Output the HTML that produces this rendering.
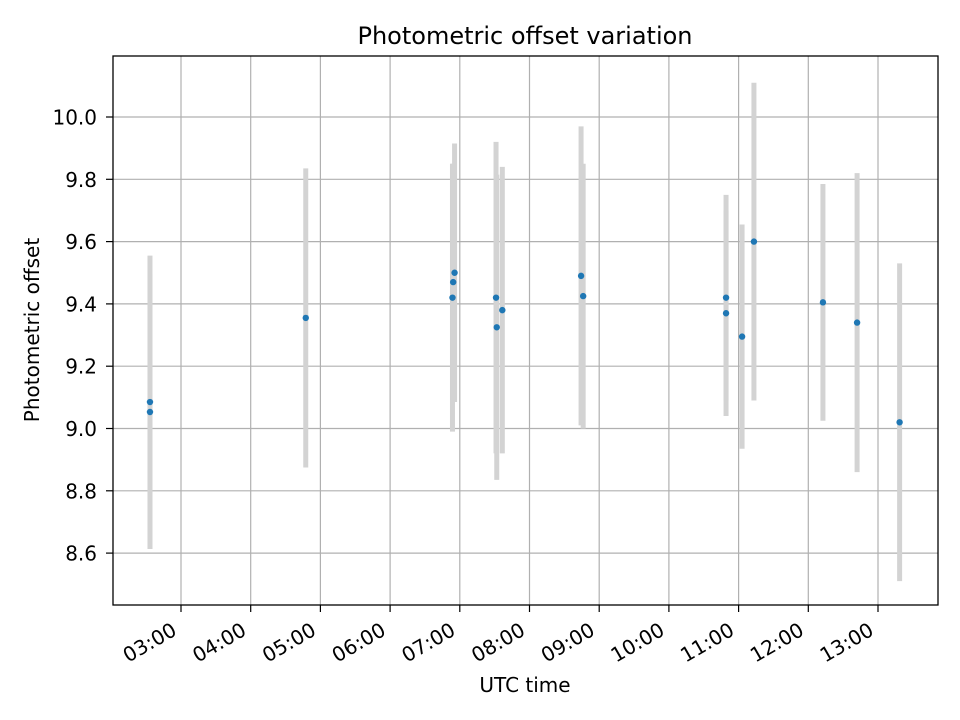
<!DOCTYPE html>
<html><head><meta charset="utf-8"><style>
body{margin:0;background:#fff;}
svg{display:block;font-family:"DejaVu Sans","Liberation Sans",sans-serif;}
</style></head><body>
<svg id="chart" width="960" height="720" viewBox="0 0 960 720">
<rect width="960" height="720" fill="#fff"/>
<text x="525" y="44" text-anchor="middle" font-size="24" fill="#000">Photometric offset variation</text>
<g id="grid"></g>
<g id="errs"></g>
<g id="pts"></g>
<rect x="113" y="56" width="825" height="549" fill="none" stroke="#000" stroke-width="1.3"/>
<g id="axes"></g>
<text x="525" y="692" text-anchor="middle" font-size="20">UTC time</text>
<text transform="translate(39,330) rotate(-90)" text-anchor="middle" font-size="20">Photometric offset</text>
</svg>
<script>
const times=[2.555,2.555,4.79,6.895,6.905,6.925,7.52,7.53,7.61,8.74,8.77,10.82,10.82,11.05,11.22,12.21,12.70,13.31];
const values=[9.085,9.053,9.355,9.42,9.47,9.50,9.42,9.325,9.38,9.49,9.425,9.42,9.37,9.295,9.60,9.405,9.34,9.02];
const errors=[0.47,0.44,0.48,0.43,0.38,0.415,0.50,0.49,0.46,0.48,0.425,0.33,0.33,0.36,0.51,0.38,0.48,0.51];
const xTickHours=[3,4,5,6,7,8,9,10,11,12,13];
const xTickLabels=["03:00","04:00","05:00","06:00","07:00","08:00","09:00","10:00","11:00","12:00","13:00"];
const yTicks=[8.6,8.8,9.0,9.2,9.4,9.6,9.8,10.0];
const yTickLabels=["8.6","8.8","9.0","9.2","9.4","9.6","9.8","10.0"];

const NS="http://www.w3.org/2000/svg";
function X(h){return 181+(h-3)*69.7;}
function Y(v){return 117+(10-v)*311.5;}
function mk(tag,attrs,parent){const e=document.createElementNS(NS,tag);for(const k in attrs)e.setAttribute(k,attrs[k]);parent.appendChild(e);return e;}
const grid=document.getElementById('grid'),axes=document.getElementById('axes'),errs=document.getElementById('errs'),pts=document.getElementById('pts');
xTickHours.forEach((h,i)=>{
  const x=X(h);
  const g=mk('line',{x1:x,x2:x,y1:56,y2:605,stroke:'#b0b0b0','stroke-width':1.2},grid);
  
  
  const t=mk('line',{x1:x,x2:x,y1:605,y2:612,stroke:'#000','stroke-width':1.2},axes);
  
  
  const bx=x-3,by=634;
  const l=mk('text',{x:bx,y:by,'text-anchor':'end','font-size':20,transform:`rotate(-30 ${bx} ${by})`},axes);
  l.textContent=xTickLabels[i];
  
  
});
yTicks.forEach((v,i)=>{
  const y=Y(v);
  const g=mk('line',{x1:113,x2:938,y1:y,y2:y,stroke:'#b0b0b0','stroke-width':1.2},grid);
  
  
  const t=mk('line',{x1:106,x2:113,y1:y,y2:y,stroke:'#000','stroke-width':1.2},axes);
  
  
  const l=mk('text',{x:97,y:y+7.5,'text-anchor':'end','font-size':20},axes);
  l.textContent=yTickLabels[i];
  
  
});
times.forEach((h,i)=>{
  const x=X(h);
  const e=mk('line',{x1:x,x2:x,y1:Y(values[i]+errors[i]),y2:Y(values[i]-errors[i]),stroke:'#d3d3d3','stroke-width':5},errs);
  
  
});
times.forEach((h,i)=>{
  const c=mk('circle',{cx:X(h),cy:Y(values[i]),r:3.2,fill:'#1f77b4'},pts);
  
  
});
</script>
</body></html>
